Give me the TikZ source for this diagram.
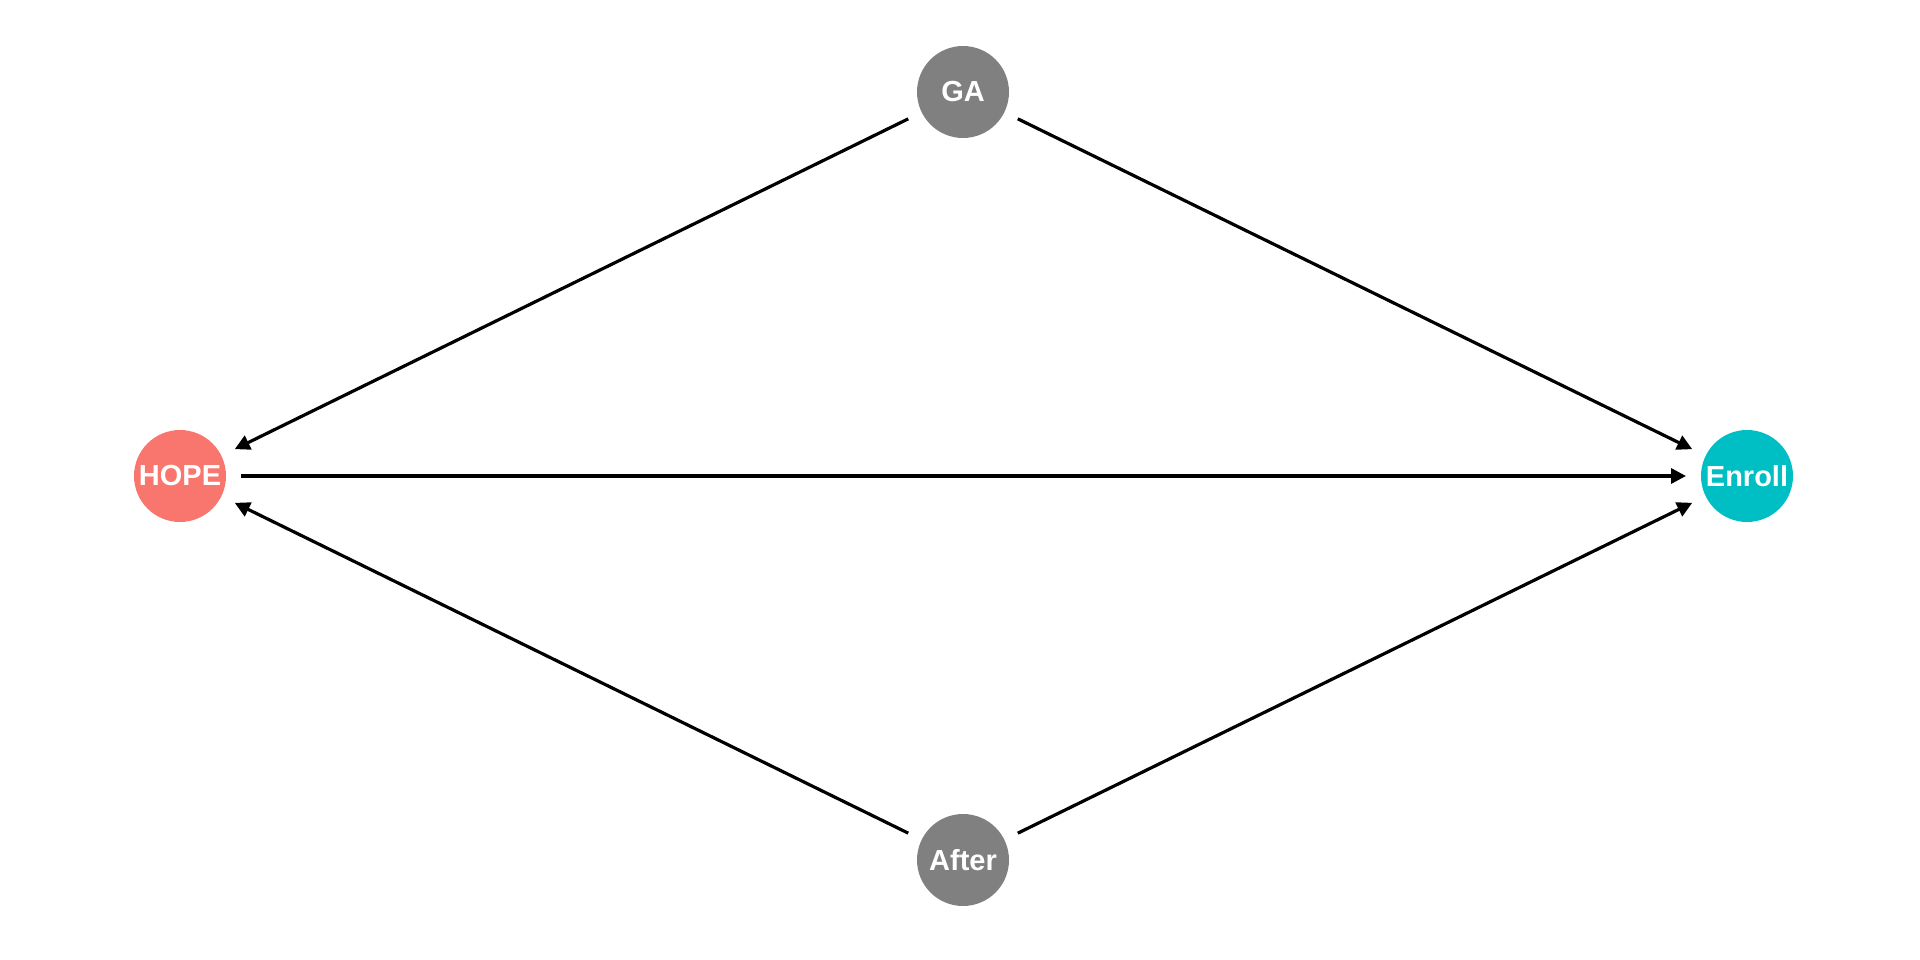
\documentclass[tikz,border=0pt]{standalone}
\usepackage{fontspec}
\setmainfont{Liberation Sans}
\usetikzlibrary{arrows.meta}
\definecolor{hopecol}{HTML}{F8766D}
\definecolor{enrollcol}{HTML}{00BFC4}
\definecolor{confcol}{HTML}{808080}
\begin{document}
\begin{tikzpicture}[x=1pt,y=-1pt,
  var/.style={circle,inner sep=0pt,minimum size=92pt,outer sep=15pt,
    text=white,font=\fontsize{29}{31}\selectfont\bfseries},
  edge/.style={line width=3.2pt,-{Triangle[length=15pt,width=15pt]}}]
  \useasboundingbox (0,0) rectangle (1920,960);
  \node[var,fill=confcol]   (ga)     at (963,92)   {GA};
  \node[var,fill=hopecol]   (hope)   at (180,476)  {HOPE};
  \node[var,fill=enrollcol] (enroll) at (1747,476) {Enroll};
  \node[var,fill=confcol]   (after)  at (963,860)  {After};
  \draw[edge] (ga) -- (hope);
  \draw[edge] (ga) -- (enroll);
  \draw[edge] (hope) -- (enroll);
  \draw[edge] (after) -- (hope);
  \draw[edge] (after) -- (enroll);
\end{tikzpicture}
\end{document}
